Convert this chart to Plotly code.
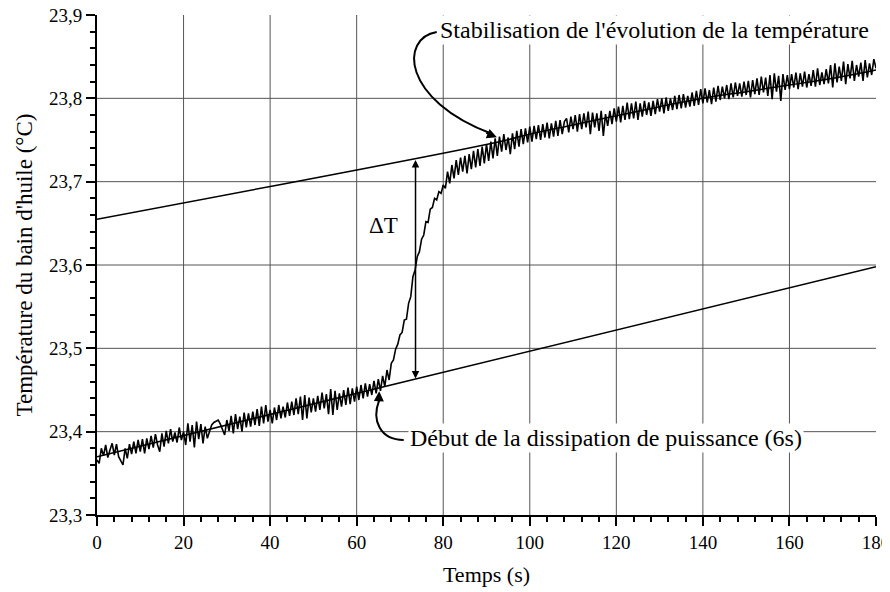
import plotly.graph_objects as go

# ---------------- data ----------------
time_s = [i * 0.5 for i in range(361)]
temp_c = [
    23.366, 23.362, 23.380, 23.371, 23.384, 23.369, 23.378, 23.386, 23.372, 23.385,
    23.370, 23.364, 23.360, 23.380, 23.368, 23.385, 23.373, 23.388, 23.374, 23.390,
    23.376, 23.391, 23.374, 23.392, 23.379, 23.395, 23.381, 23.397, 23.384, 23.376,
    23.398, 23.382, 23.401, 23.386, 23.403, 23.388, 23.399, 23.387, 23.405, 23.390,
    23.400, 23.384, 23.410, 23.388, 23.408, 23.381, 23.412, 23.391, 23.409, 23.386,
    23.406, 23.392, 23.400, 23.408, 23.411, 23.413, 23.414, 23.409, 23.402, 23.396,
    23.414, 23.401, 23.419, 23.398, 23.421, 23.403, 23.418, 23.400, 23.423, 23.405,
    23.422, 23.406, 23.424, 23.408, 23.427, 23.407, 23.430, 23.410, 23.432, 23.412,
    23.426, 23.410, 23.429, 23.414, 23.432, 23.416, 23.430, 23.417, 23.435, 23.419,
    23.436, 23.420, 23.440, 23.421, 23.442, 23.414, 23.444, 23.416, 23.441, 23.423,
    23.440, 23.424, 23.443, 23.426, 23.447, 23.428, 23.445, 23.421, 23.451, 23.420,
    23.449, 23.426, 23.446, 23.430, 23.450, 23.432, 23.453, 23.433, 23.452, 23.436,
    23.454, 23.438, 23.456, 23.440, 23.458, 23.442, 23.457, 23.444, 23.461, 23.446,
    23.463, 23.449, 23.467, 23.454, 23.474, 23.462, 23.482, 23.486, 23.499, 23.505,
    23.516, 23.519, 23.534, 23.535, 23.554, 23.562, 23.586, 23.594, 23.610, 23.616,
    23.631, 23.636, 23.652, 23.651, 23.667, 23.669, 23.680, 23.678, 23.688, 23.686,
    23.696, 23.692, 23.712, 23.698, 23.720, 23.704, 23.726, 23.708, 23.729, 23.712,
    23.731, 23.710, 23.733, 23.715, 23.737, 23.717, 23.739, 23.719, 23.742, 23.722,
    23.745, 23.725, 23.748, 23.728, 23.752, 23.731, 23.754, 23.736, 23.757, 23.738,
    23.753, 23.733, 23.758, 23.739, 23.761, 23.742, 23.763, 23.745, 23.764, 23.747,
    23.766, 23.748, 23.767, 23.751, 23.768, 23.750, 23.769, 23.753, 23.771, 23.752,
    23.770, 23.754, 23.773, 23.755, 23.774, 23.757, 23.772, 23.776, 23.759, 23.778,
    23.763, 23.780, 23.760, 23.781, 23.763, 23.782, 23.765, 23.784, 23.757, 23.783,
    23.765, 23.782, 23.761, 23.785, 23.755, 23.781, 23.767, 23.785, 23.769, 23.788,
    23.772, 23.790, 23.771, 23.791, 23.774, 23.795, 23.775, 23.794, 23.776, 23.796,
    23.774, 23.794, 23.778, 23.797, 23.780, 23.795, 23.779, 23.797, 23.781, 23.799,
    23.784, 23.800, 23.782, 23.801, 23.785, 23.800, 23.786, 23.803, 23.787, 23.804,
    23.788, 23.805, 23.789, 23.803, 23.790, 23.807, 23.791, 23.809, 23.792, 23.811,
    23.794, 23.812, 23.795, 23.810, 23.793, 23.813, 23.796, 23.815, 23.798, 23.814,
    23.800, 23.816, 23.799, 23.818, 23.801, 23.819, 23.803, 23.818, 23.802, 23.820,
    23.804, 23.821, 23.801, 23.822, 23.805, 23.824, 23.804, 23.826, 23.807, 23.825,
    23.803, 23.828, 23.799, 23.830, 23.808, 23.827, 23.797, 23.829, 23.810, 23.828,
    23.811, 23.829, 23.813, 23.831, 23.811, 23.830, 23.814, 23.832, 23.813, 23.829,
    23.815, 23.834, 23.814, 23.836, 23.816, 23.831, 23.817, 23.835, 23.818, 23.840,
    23.813, 23.842, 23.819, 23.838, 23.821, 23.844, 23.817, 23.841, 23.824, 23.845,
    23.821, 23.840, 23.826, 23.843, 23.821, 23.846, 23.825, 23.842, 23.828, 23.847,
    23.836,
]

lower_fit_x = [0, 180]
lower_fit_y = [23.370, 23.598]

upper_fit_x = [0, 93, 100, 110, 120, 130, 140, 150, 160, 170, 180]
upper_fit_y = [23.655, 23.748, 23.757, 23.768, 23.779, 23.790, 23.800, 23.808, 23.816, 23.824, 23.834]

x_ticks = [0, 20, 40, 60, 80, 100, 120, 140, 160, 180]
y_ticks = [23.3, 23.4, 23.5, 23.6, 23.7, 23.8, 23.9]
x_grid = [20, 40, 60, 80, 100, 120, 140, 160]
y_grid = [23.4, 23.5, 23.6, 23.7, 23.8]

FONT = "Liberation Serif"

fig = go.Figure()

# grid lines (interior only, as in the reference)
shapes = []
for gx in x_grid:
    shapes.append(dict(type="line", xref="x", yref="paper", x0=gx, x1=gx, y0=0, y1=1,
                       line=dict(color="#555555", width=1), layer="below"))
for gy in y_grid:
    shapes.append(dict(type="line", xref="paper", yref="y", x0=0, x1=1, y0=gy, y1=gy,
                       line=dict(color="#555555", width=1), layer="below"))

# curved arrows
shapes.append(dict(type="path", xref="x", yref="y",
                   path="M 78.5,23.8796 C 69.94,23.8724 70.4,23.798 91.2,23.7575",
                   line=dict(color="black", width=2)))
shapes.append(dict(type="path", xref="x", yref="y",
                   path="M 70.87,23.390 C 65.32,23.390 63.47,23.414 65.15,23.437",
                   line=dict(color="black", width=2)))

fig.add_trace(go.Scatter(x=lower_fit_x, y=lower_fit_y, mode="lines",
                         line=dict(color="black", width=1.5), showlegend=False, hoverinfo="skip"))
fig.add_trace(go.Scatter(x=upper_fit_x, y=upper_fit_y, mode="lines",
                         line=dict(color="black", width=1.5, shape="spline"),
                         showlegend=False, hoverinfo="skip"))
fig.add_trace(go.Scatter(x=time_s, y=temp_c, mode="lines",
                         line=dict(color="black", width=1.6), showlegend=False))

annotations = [
    dict(x=73.6, y=23.726, ax=73.6, ay=23.462, xref="x", yref="y", axref="x", ayref="y",
         text="", showarrow=True, arrowhead=2, arrowside="end+start", arrowsize=1,
         arrowwidth=1.5, arrowcolor="black"),
    dict(x=66.3, y=23.647, xref="x", yref="y", text="ΔT", showarrow=False,
         font=dict(family=FONT, size=23, color="black")),
    dict(x=92.4, y=23.7532, ax=89.6, ay=23.7592, xref="x", yref="y", axref="x", ayref="y",
         text="", showarrow=True, arrowhead=2, arrowsize=1, arrowwidth=2, arrowcolor="black"),
    dict(x=65.2, y=23.4485, ax=65.12, ay=23.434, xref="x", yref="y", axref="x", ayref="y",
         text="", showarrow=True, arrowhead=2, arrowsize=1, arrowwidth=2, arrowcolor="black"),
    dict(x=128.8, y=23.882, xref="x", yref="y",
         text="Stabilisation de l'évolution de la température", showarrow=False,
         bgcolor="white", borderpad=1, font=dict(family=FONT, size=24, color="black")),
    dict(x=117.5, y=23.393, xref="x", yref="y",
         text="Début de la dissipation de puissance (6s)", showarrow=False,
         bgcolor="white", borderpad=1, font=dict(family=FONT, size=24, color="black")),
]

# The page body adds an 8 px offset; size and margins compensate for it.
fig.update_layout(
    width=882, height=584,
    margin=dict(l=89, r=14, t=7, b=77),
    paper_bgcolor="white", plot_bgcolor="white",
    separators=", ",
    font=dict(family=FONT, size=19, color="black"),
    shapes=shapes,
    annotations=annotations,
    showlegend=False,
)

fig.update_xaxes(
    range=[0, 180], tickvals=x_ticks, ticktext=[str(v) for v in x_ticks],
    automargin=False, ticklabeloverflow="allow",
    showgrid=False, zeroline=False, showline=True, linecolor="black", linewidth=2,
    ticks="outside", ticklen=9, tickwidth=2, tickcolor="black",
    minor=dict(dtick=4, tick0=0, ticks="outside", ticklen=5, tickwidth=2, tickcolor="black", showgrid=False),
    tickfont=dict(family=FONT, size=19),
    title=dict(text="Temps (s)", font=dict(family=FONT, size=22), standoff=15),
)
fig.update_yaxes(
    range=[23.3, 23.9], tickvals=y_ticks, tickformat=".1f",
    automargin=False, ticklabeloverflow="allow",
    showgrid=False, zeroline=False, showline=True, linecolor="black", linewidth=2,
    ticks="outside", ticklen=9, tickwidth=2, tickcolor="black",
    minor=dict(dtick=0.02, tick0=23.3, ticks="outside", ticklen=5, tickwidth=2, tickcolor="black", showgrid=False),
    tickfont=dict(family=FONT, size=19),
    title=dict(text="Température du bain d'huile (°C)", font=dict(family=FONT, size=23), standoff=10),
)

fig.write_html("out.html")
